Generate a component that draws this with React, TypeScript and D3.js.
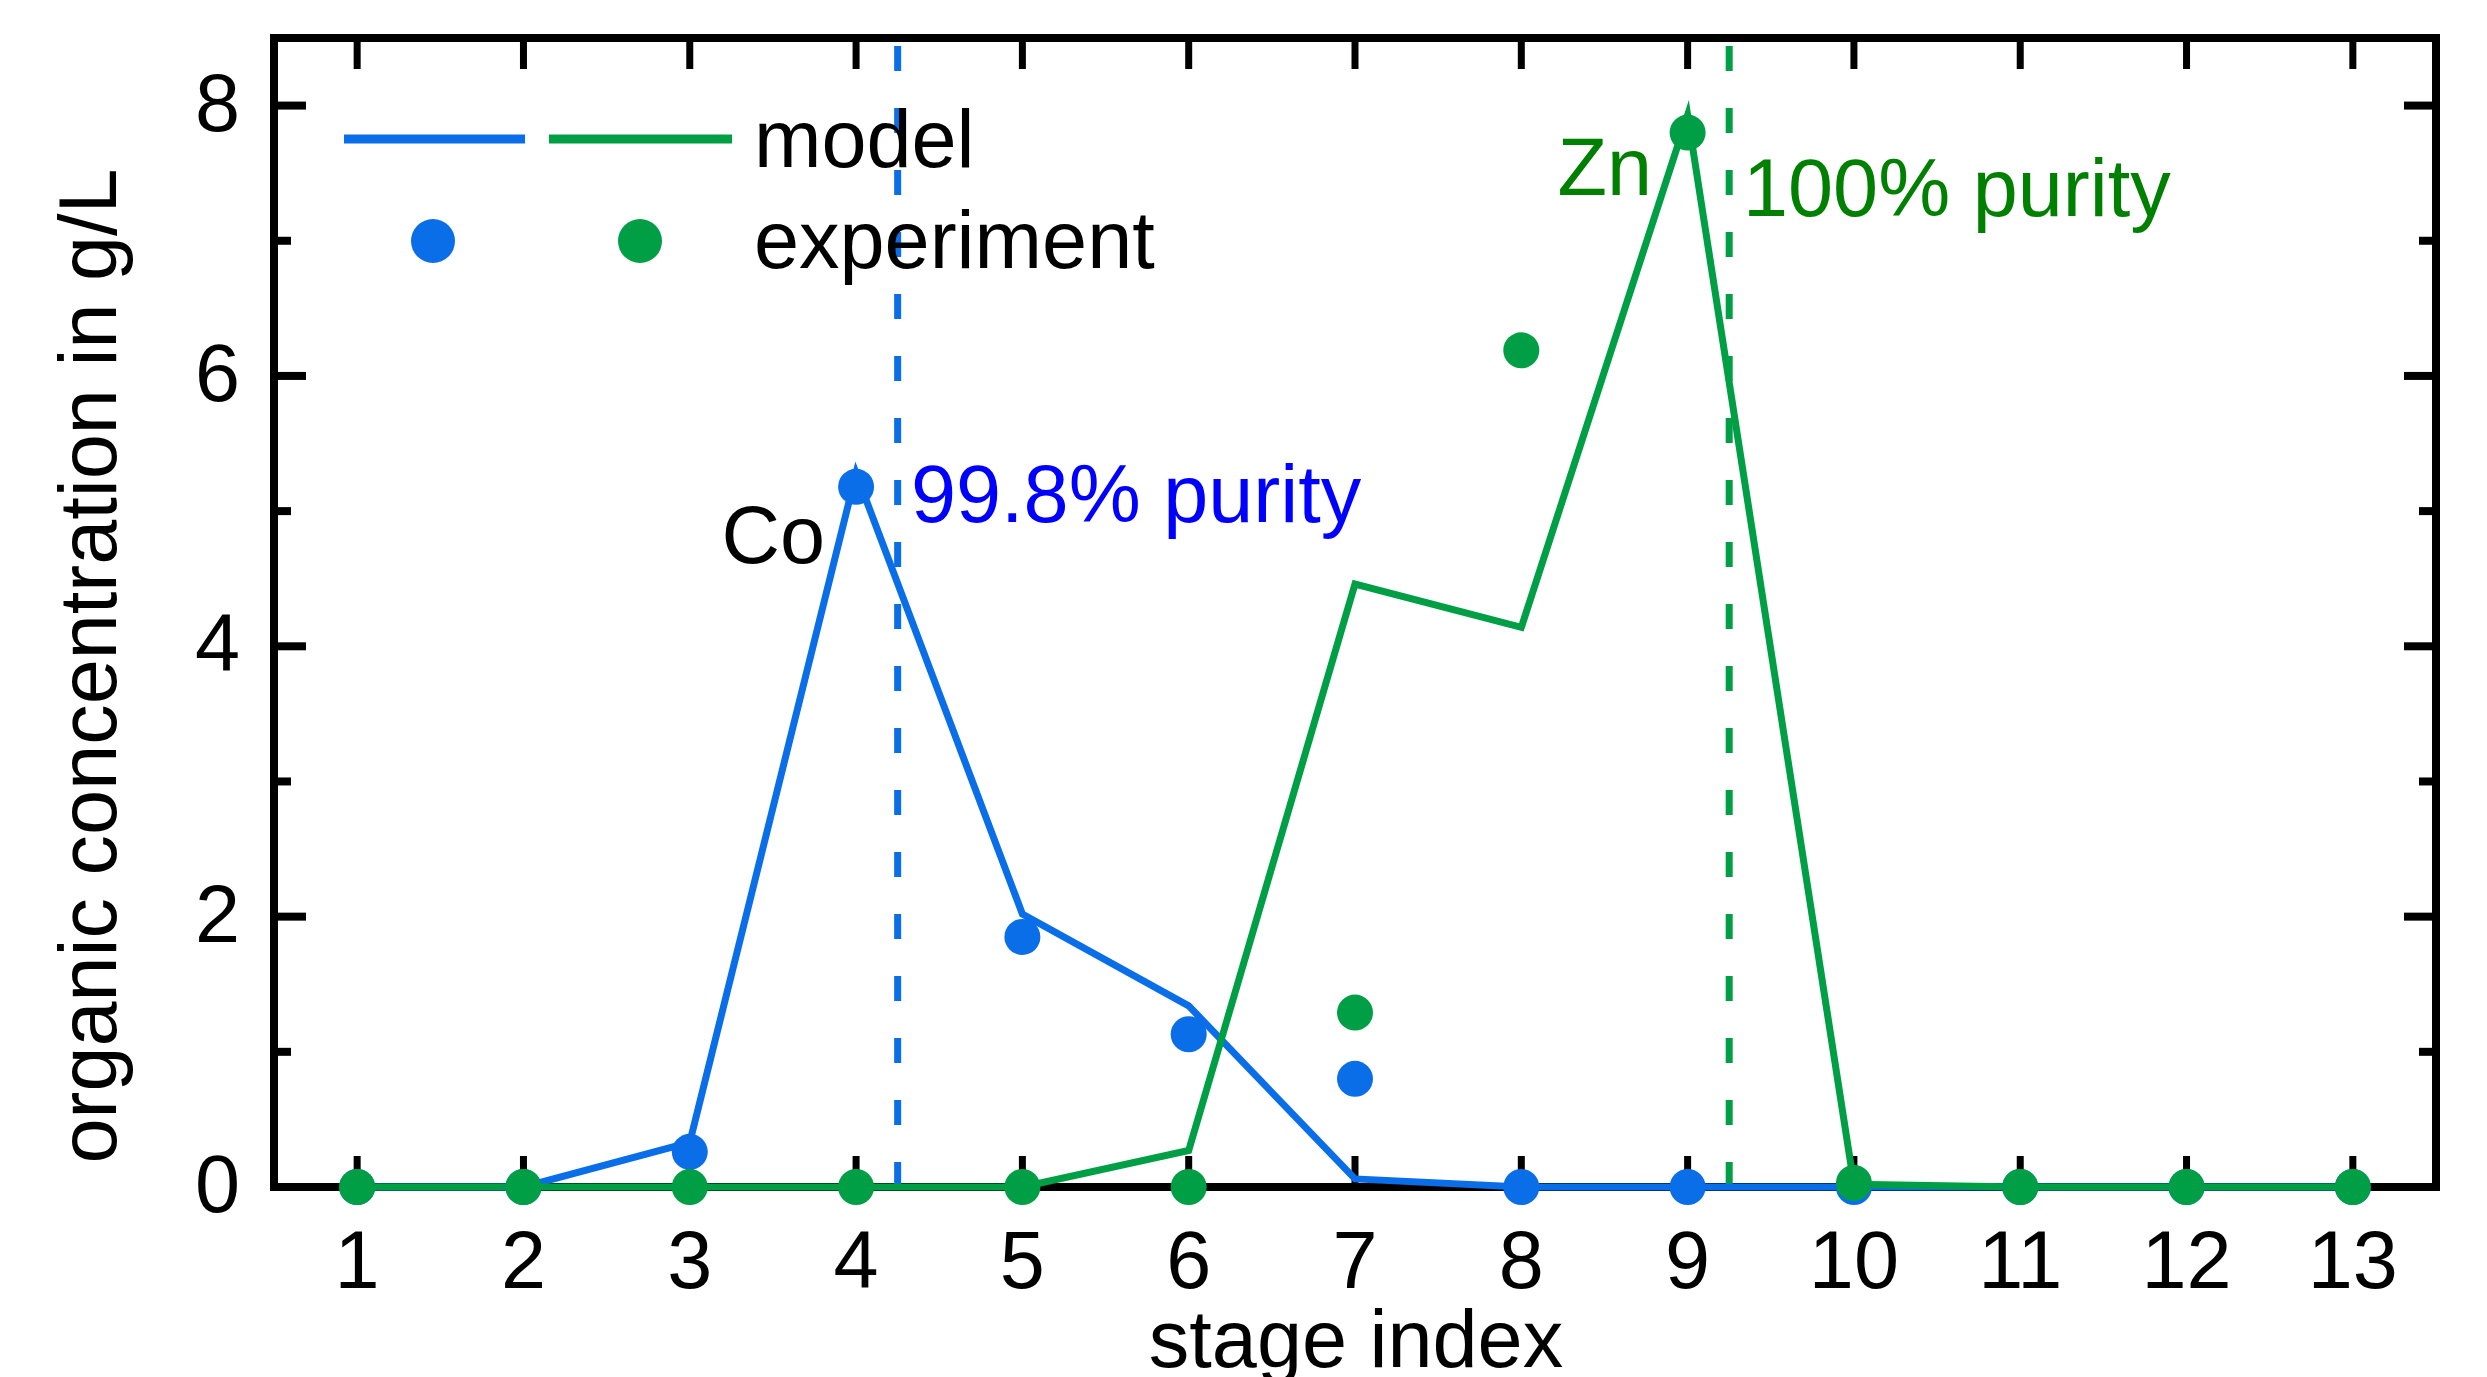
import React from "react";
import * as d3 from "d3";

const stages = [1, 2, 3, 4, 5, 6, 7, 8, 9, 10, 11, 12, 13];
const coModel = [0, 0, 0.33, 5.28, 2.02, 1.34, 0.06, 0.0, 0, 0, 0, 0, 0];
const znModel = [0, 0, 0, 0, 0, 0.27, 4.46, 4.14, 7.93, 0.02, 0, 0, 0];
const coExp = [0, 0, 0.26, 5.18, 1.85, 1.13, 0.8, 0, 0, 0, 0, 0, 0];
const znExp = [0, 0, 0, 0, 0, 0, 1.29, 6.19, 7.8, 0.03, 0, 0, 0];
const yMajorTicks = [0, 2, 4, 6, 8];
const yMinorTicks = [1, 3, 5, 7];
const coPurityStage = 4.25;
const znPurityStage = 9.25;

const W = 2487;
const H = 1377;
const BLUE = "#0a6ee8";
const GREEN = "#009f45";
const FONT = "'Liberation Sans', Arial, Helvetica, sans-serif";
const FS = 81;

export default function App() {
  const x = d3.scaleLinear().domain([0.5, 13.5]).range([274, 2436]);
  const y = d3.scaleLinear().domain([0, 8.5]).range([1187, 38]);
  const line = d3
    .line<number>()
    .x((_, i) => x(stages[i]))
    .y((d) => y(d));

  const [x0, x1] = x.range();
  const [yb, yt] = y.range();

  return (
    <svg
      width={W}
      height={H}
      style={{ position: "absolute", left: 0, top: 0, background: "#fff" }}
      fontFamily={FONT}
    >
      <rect x={0} y={0} width={W} height={H} fill="#fff" />
      {/* frame */}
      <rect x={x0} y={yt} width={x1 - x0} height={yb - yt} fill="none" stroke="#000" strokeWidth={8} />
      {/* x ticks (bottom & top, inward) */}
      {stages.map((s) => (
        <g key={"xt" + s}>
          <line x1={x(s)} x2={x(s)} y1={yb} y2={yb - 31} stroke="#000" strokeWidth={7} />
          <line x1={x(s)} x2={x(s)} y1={yt} y2={yt + 31} stroke="#000" strokeWidth={7} />
          <text x={x(s)} y={1288} textAnchor="middle" fontSize={FS} fill="#000">
            {s}
          </text>
        </g>
      ))}
      {/* y ticks */}
      {yMajorTicks.map((v) => (
        <g key={"yt" + v}>
          <line x1={x0} x2={x0 + 32} y1={y(v)} y2={y(v)} stroke="#000" strokeWidth={8} />
          <line x1={x1} x2={x1 - 32} y1={y(v)} y2={y(v)} stroke="#000" strokeWidth={8} />
          <text x={240} y={y(v) + 25} textAnchor="end" fontSize={FS} fill="#000">
            {v}
          </text>
        </g>
      ))}
      {yMinorTicks.map((v) => (
        <g key={"ym" + v}>
          <line x1={x0} x2={x0 + 17} y1={y(v)} y2={y(v)} stroke="#000" strokeWidth={8} />
          <line x1={x1} x2={x1 - 17} y1={y(v)} y2={y(v)} stroke="#000" strokeWidth={8} />
        </g>
      ))}
      {/* axis titles */}
      <text x={1356} y={1367} textAnchor="middle" fontSize={FS} fill="#000">
        stage index
      </text>
      <text
        transform={`translate(116,666) rotate(-90)`}
        textAnchor="middle"
        fontSize={FS}
        fill="#000"
      >
        organic concentration in g/L
      </text>

      {/* purity dashed lines */}
      <line
        x1={x(coPurityStage)}
        x2={x(coPurityStage)}
        y1={yb}
        y2={yt}
        stroke={BLUE}
        strokeWidth={7}
        strokeDasharray="25 37"
      />
      <line
        x1={x(znPurityStage)}
        x2={x(znPurityStage)}
        y1={yb}
        y2={yt}
        stroke={GREEN}
        strokeWidth={7}
        strokeDasharray="25 37"
      />

      {/* model lines */}
      <path d={line(coModel) || ""} fill="none" stroke={BLUE} strokeWidth={7} strokeLinejoin="miter" strokeMiterlimit={10} />
      <path d={line(znModel) || ""} fill="none" stroke={GREEN} strokeWidth={7} strokeLinejoin="miter" strokeMiterlimit={10} />

      {/* experiment points */}
      {coExp.map((v, i) => (
        <circle key={"ce" + i} cx={x(stages[i])} cy={y(v)} r={18} fill={BLUE} />
      ))}
      {znExp.map((v, i) => (
        <circle key={"ze" + i} cx={x(stages[i])} cy={y(v)} r={18} fill={GREEN} />
      ))}

      {/* annotations */}
      <text x={825} y={563} textAnchor="end" fontSize={FS} fill="#000">
        Co
      </text>
      <text x={911} y={522} fontSize={FS} fill="#0000ff">
        99.8% purity
      </text>
      <text x={1652} y={195} textAnchor="end" fontSize={FS} fill="#008000">
        Zn
      </text>
      <text x={1743} y={216} fontSize={FS} fill="#008000">
        100% purity
      </text>

      {/* legend */}
      <line x1={344} x2={525} y1={139} y2={139} stroke={BLUE} strokeWidth={9} />
      <line x1={549} x2={732} y1={139} y2={139} stroke={GREEN} strokeWidth={9} />
      <circle cx={433} cy={241} r={22} fill={BLUE} />
      <circle cx={640} cy={241} r={22} fill={GREEN} />
      <text x={754} y={167} fontSize={FS} fill="#000">
        model
      </text>
      <text x={754} y={268} fontSize={FS} fill="#000">
        experiment
      </text>
    </svg>
  );
}
